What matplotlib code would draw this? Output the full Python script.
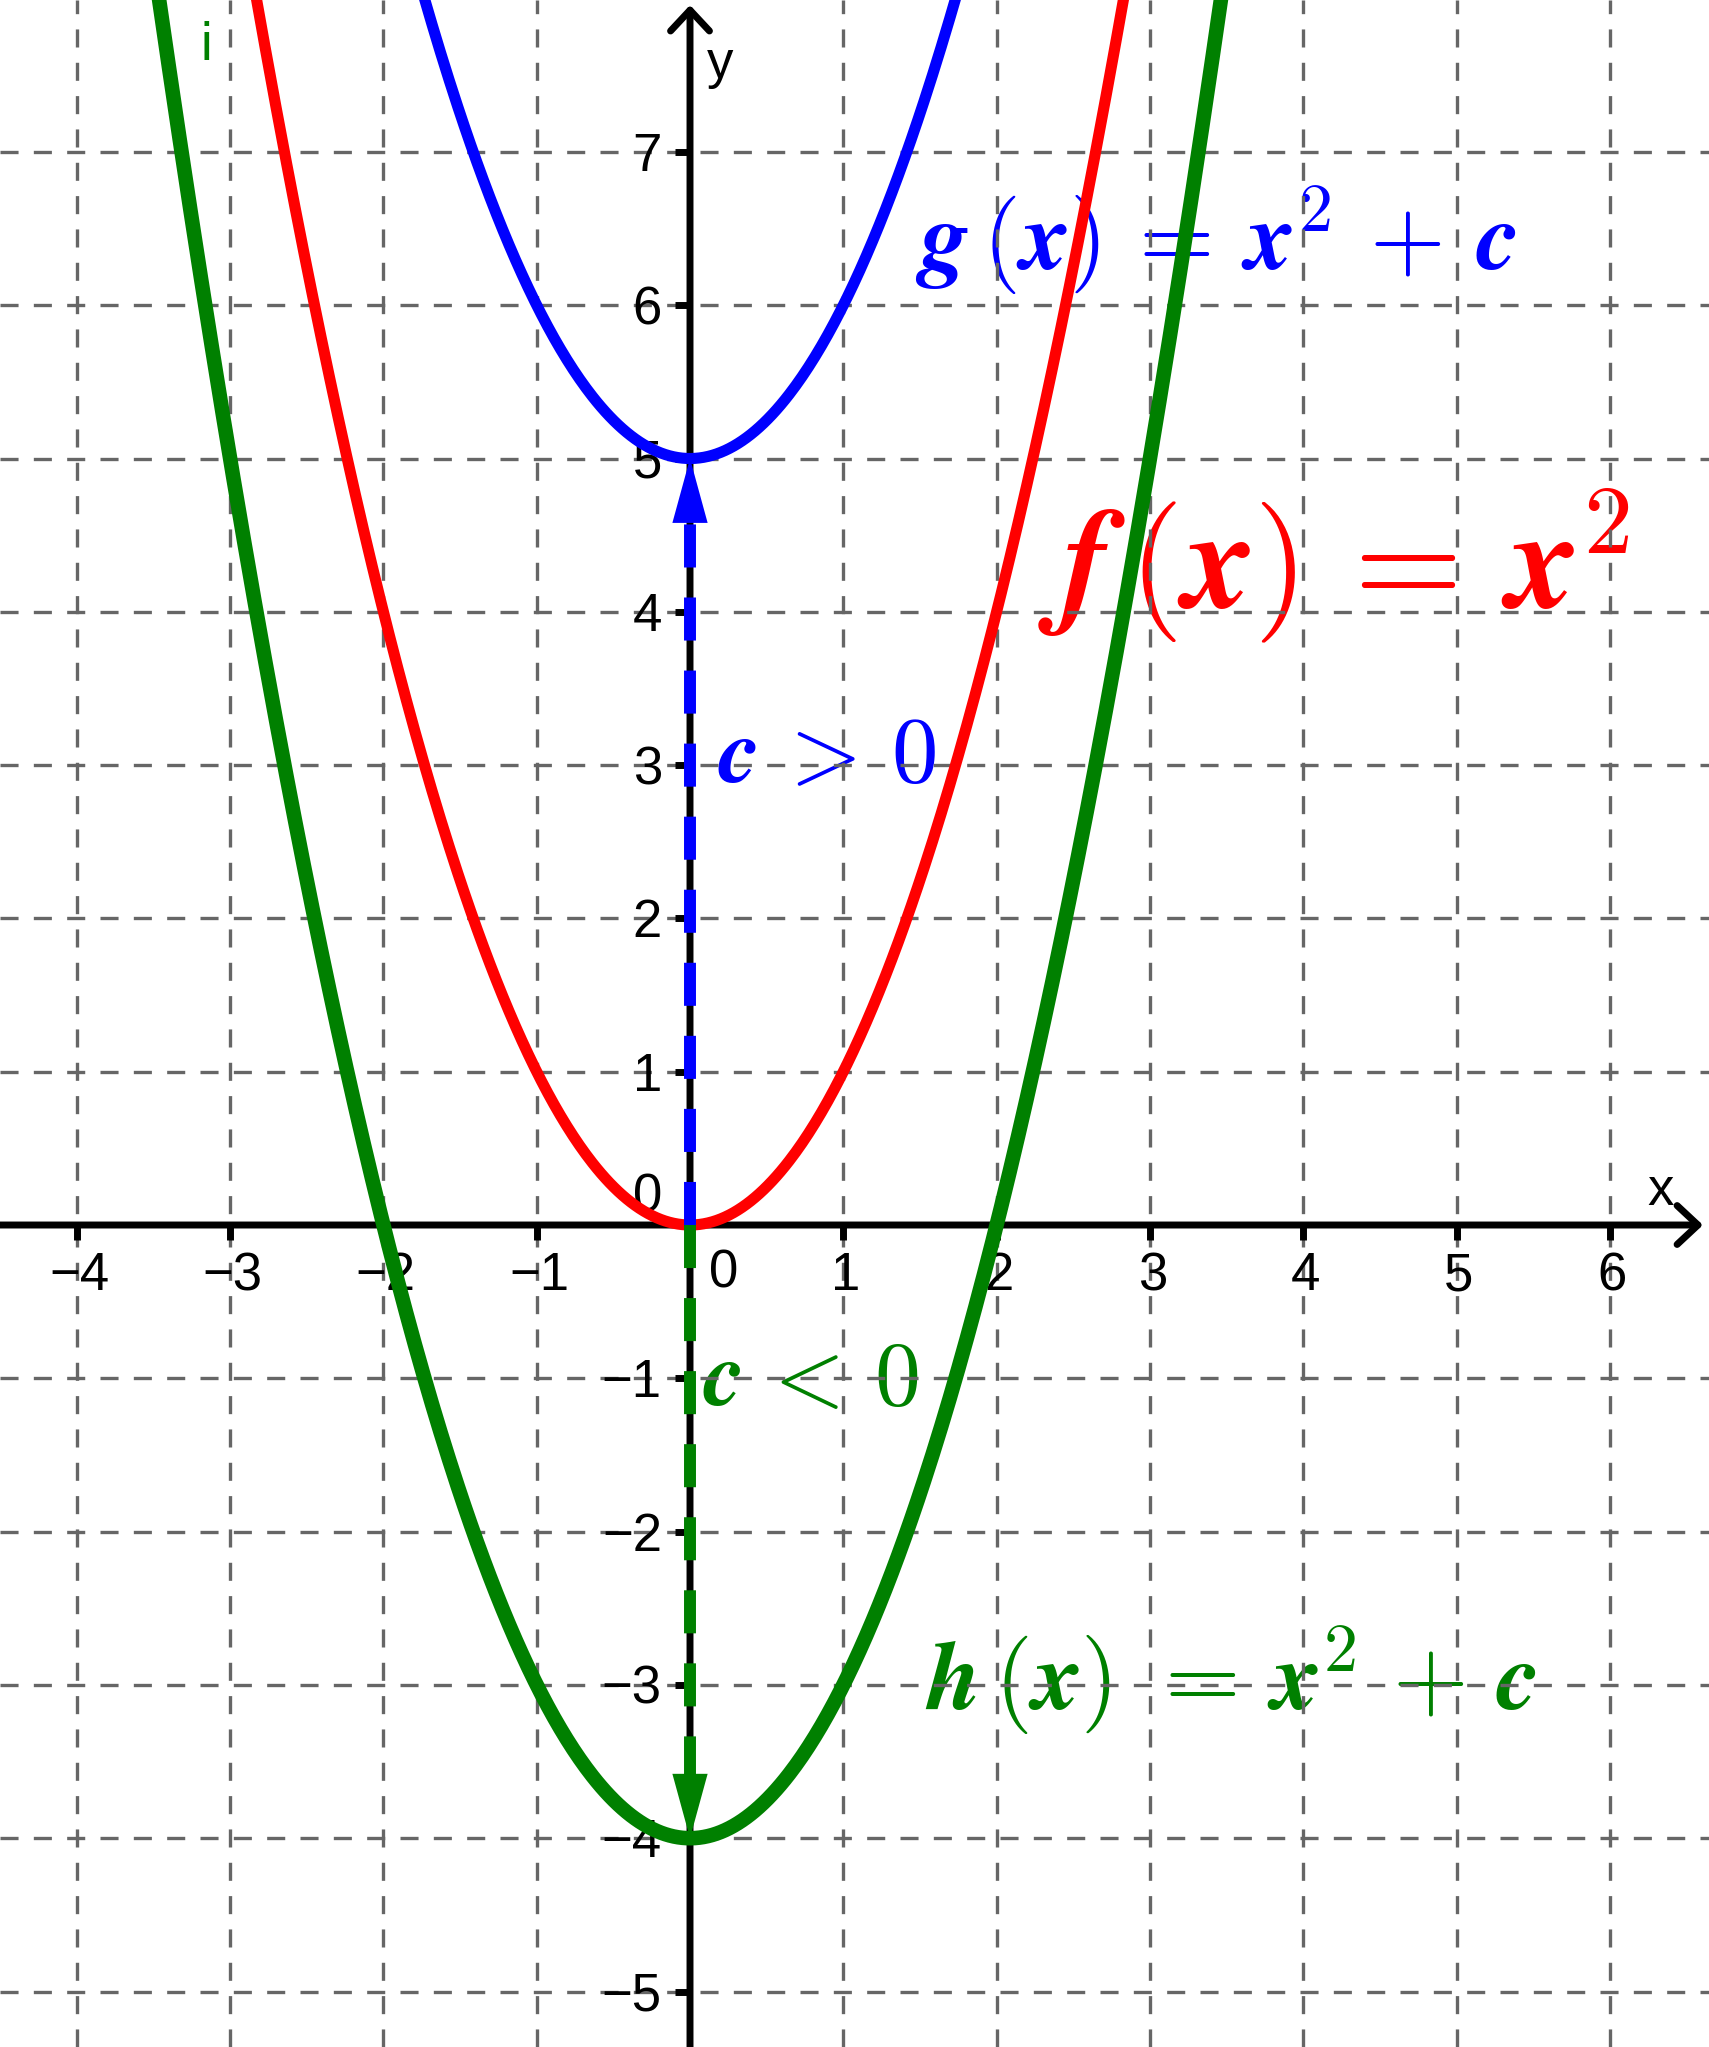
import numpy as np
import matplotlib
matplotlib.use('Agg')
import matplotlib.pyplot as plt

plt.rcParams['font.family'] = ['Liberation Sans', 'DejaVu Sans']
plt.rcParams['mathtext.fontset'] = 'cm'
plt.rcParams['lines.scale_dashes'] = False

# parabolas y = x^2 + c
shifts = [0, 5, -4]              # f, g, h
colors = ['#ff0000', '#0000ff', '#008000']
widths = [8, 8, 10.5]

x_ticks = [-4, -3, -2, -1, 1, 2, 3, 4, 5, 6]
y_ticks = [-5, -4, -3, -2, -1, 1, 2, 3, 4, 5, 6, 7]

fig = plt.figure(figsize=(17.09, 20.47), dpi=100)
ax = fig.add_axes([0, 0, 1, 1])
xmin, xmax = -4.501, 6.647
ymin, ymax = -5.362, 7.991
ax.set_xlim(xmin, xmax)
ax.set_ylim(ymin, ymax)

# grid + ticks sitting on the axes through the origin
ax.set_xticks(x_ticks)
ax.set_yticks(y_ticks)
ax.spines['bottom'].set_position('zero')
ax.spines['left'].set_position('zero')
for s in ax.spines.values():
    s.set_color('none')
ax.tick_params(labelbottom=False, labelleft=False, direction='out',
               length=10.5, width=5, color='black')
ax.grid(True, color='#666666', lw=2.4, linestyle=(0, (13, 11)))
ax.set_axisbelow(True)

# axes with open arrow heads
arr = dict(arrowstyle='->,head_length=1.5,head_width=1.4', lw=5,
           color='black', shrinkA=0, shrinkB=0)
ax.annotate('', xy=(6.608, 0), xytext=(xmin, 0), arrowprops=arr, zorder=2)
ax.annotate('', xy=(0, 7.958), xytext=(0, ymin), arrowprops=arr, zorder=2)

# tick labels
def lab(v):
    return str(v).replace('-', '\u2212')

for t in x_ticks:
    ax.text(t + 0.015, -0.424, lab(t), ha='center', va='baseline', fontsize=38, zorder=1)
for t in y_ticks:
    ax.text(-0.183, t - 0.124, lab(t), ha='right', va='baseline', fontsize=38, zorder=1)
ax.text(0.22, -0.41, '0', ha='center', va='baseline', fontsize=38, zorder=1)
ax.text(-0.183, 0.085, '0', ha='right', va='baseline', fontsize=38, zorder=1)
ax.text(6.334, 0.13, 'x', ha='center', va='baseline', fontsize=38, zorder=1)
ax.text(0.11, 7.48, 'y', ha='left', va='baseline', fontsize=38, zorder=1)
ax.text(-3.196, 7.60, 'i', ha='left', va='baseline', fontsize=38,
        color='#008000', zorder=1)

# curves
xs = np.linspace(xmin, xmax, 800)
for c, col, w in zip(shifts, colors, widths):
    ax.plot(xs, xs ** 2 + c, color=col, lw=w, zorder=3)

# dashed shift arrows from the origin to the vertices of g and h
L, hw = 0.42, 0.115
for c, col in zip(shifts[1:], colors[1:]):
    sg = np.sign(c)
    ax.plot([0, 0], [0, c - sg * L], color=col, lw=8.6,
            linestyle=(0, (31, 21.6)), zorder=4)
    ax.fill([0, -hw, hw], [c, c - sg * L, c - sg * L], color=col, lw=0, zorder=4)

# formula labels (behind the grid like in the original)
ax.text(1.468, 6.23,
        r'$\boldsymbol{g}\,(\boldsymbol{x})\,=\,\boldsymbol{x}^{2}\,+\,\boldsymbol{c}$',
        color='#0000ff', fontsize=70, ha='left', va='baseline', zorder=0.3)
ax.text(2.27, 4.03,
        r'$\boldsymbol{f}\,(\boldsymbol{x})\,\mathbf{=}\,\boldsymbol{x}^{\mathbf{2}}$',
        color='#ff0000', fontsize=101, ha='left', va='baseline', zorder=0.3)
ax.text(0.18, 2.89, r'$\boldsymbol{c}\,>\,\mathbf{0}$',
        color='#0000ff', fontsize=67, ha='left', va='baseline', zorder=0.3)
ax.text(0.085, -1.174, r'$\boldsymbol{c}\,<\,\mathbf{0}$',
        color='#008000', fontsize=66, ha='left', va='baseline', zorder=0.3)
ax.text(1.533, -3.164,
        r'$\boldsymbol{h}\,(\boldsymbol{x})\,\,\mathbf{=}\,\boldsymbol{x}^{\mathbf{2}}\,\,\mathbf{+}\,\,\boldsymbol{c}$',
        color='#008000', fontsize=70, ha='left', va='baseline', zorder=0.3)

fig.savefig('out.png', dpi=100)
